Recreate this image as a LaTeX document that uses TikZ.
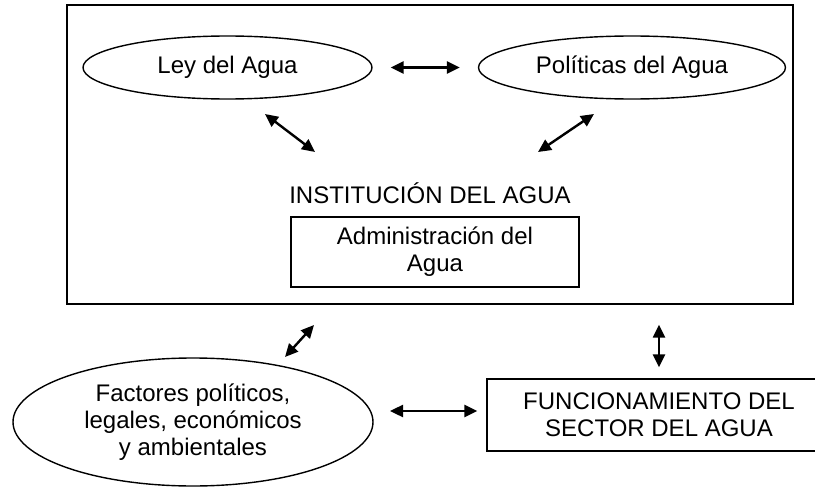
\documentclass[tikz,border=0pt]{standalone}
\usepackage{fontspec}
\setmainfont{Liberation Sans}
\usetikzlibrary{arrows.meta,shapes.geometric,positioning}

\tikzset{
  elipse/.style={draw, ellipse, line width=0.7pt, inner sep=0pt, align=center},
  caja/.style={draw, rectangle, line width=0.7pt, inner sep=0pt, align=center},
  flecha/.style={{Triangle[length=6.5pt,width=6pt]}-{Triangle[length=6.5pt,width=6pt]}, line width=1.2pt},
}

\begin{document}
\begin{tikzpicture}[x=0.5pt,y=-0.5pt,font=\fontsize{12}{13.5}\selectfont]
  \useasboundingbox (0,0) rectangle (815,487);

  % institucion
  \node[caja, minimum width=363pt, minimum height=149.5pt] (marco) at (430,154.5) {};
  \node[elipse, minimum width=144.5pt, minimum height=31.5pt] (ley) at (227.5,67.5) {Ley del Agua};
  \node[elipse, minimum width=153.5pt, minimum height=31.5pt] (pol) at (632,67.5) {Políticas del Agua};
  \node (inst) at (430,193) {INSTITUCIÓN DEL AGUA};
  \node[caja, minimum width=144pt, minimum height=35pt] (adm) at (435,252) {Administración del\\Agua};

  % afuera
  \node[elipse, minimum width=180pt, minimum height=64pt] (fact) at (193,422)
    {Factores políticos,\\legales, económicos\\y ambientales};
  \node[caja, minimum width=172pt, minimum height=36pt] (func) at (659,415)
    {FUNCIONAMIENTO DEL\\SECTOR DEL AGUA};

  \coordinate (ley-a) at (265,114);
  \coordinate (ley-b) at (315,152);
  \coordinate (pol-a) at (594,114);
  \coordinate (pol-b) at (538,152);
  \coordinate (fact-a) at (285,357);
  \coordinate (fact-b) at (314,325);
  \coordinate (fact-e) at (373,411);

  \draw[flecha, shorten <=9pt, shorten >=9pt] (ley.east) -- (pol.west);
  \draw[flecha] (ley-a) -- (ley-b);
  \draw[flecha] (pol-b) -- (pol-a);
  \draw[flecha] (fact-a) -- (fact-b);
  \draw[flecha, shorten <=5.5pt, shorten >=10pt] (func.north) -- (func.north |- marco.south);
  \draw[flecha, shorten <=8.5pt, shorten >=4.5pt] (fact-e) -- (fact-e -| func.west);
\end{tikzpicture}
\end{document}
